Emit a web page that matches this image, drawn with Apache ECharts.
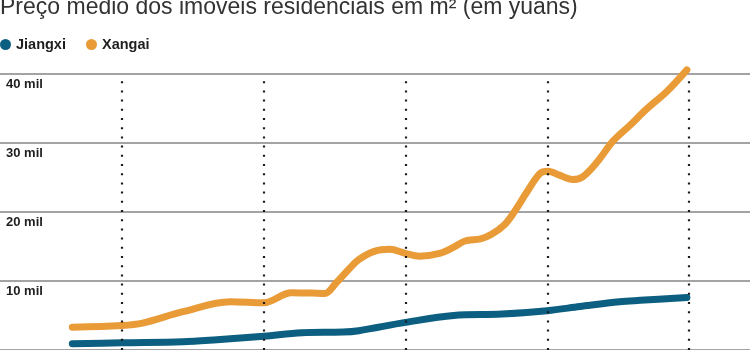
<!DOCTYPE html>
<html>
<head>
<meta charset="utf-8">
<script src="https://cdn.jsdelivr.net/npm/echarts@6/dist/echarts.min.js"></script>
<style>
  html, body { margin: 0; padding: 0; background: #ffffff; }
  #chart { width: 750px; height: 350px; }
</style>
</head>
<body>
<div id="chart"></div>
<script>
// Average price of residential property per m² (yuan), by year
const titleText = 'Preço médio dos imóveis residenciais em m\u00B2 (em yuans)';
const seriesNames = ['Jiangxi', 'Xangai'];

// Year marks drawn as dotted verticals
const yearMarks = [2004, 2006, 2008, 2010, 2012];

// Jiangxi: [year, yuan per m²]
const jiangxi = [
  [2003.30, 900], [2004.00, 1050], [2004.86, 1200], [2005.34, 1500],
  [2006.00, 2000], [2006.54, 2500], [2007.12, 2600], [2007.34, 2800],
  [2008.00, 4000], [2008.68, 5000], [2009.36, 5200], [2010.00, 5700],
  [2010.46, 6300], [2011.02, 7000], [2011.31, 7200], [2011.97, 7600]
];

// Xangai: [year, yuan per m²]
const xangai = [
  [2003.30, 3300], [2004.00, 3550], [2004.29, 3900], [2004.86, 5550],
  [2005.53, 7000], [2006.00, 6850], [2006.39, 8300], [2006.68, 8250],
  [2006.86, 8200], [2007.02, 9700], [2007.20, 11700], [2007.34, 13100],
  [2007.56, 14300], [2007.78, 14600], [2008.00, 14000], [2008.20, 13600],
  [2008.48, 14000], [2008.68, 14900], [2008.84, 15800], [2009.06, 16100],
  [2009.22, 16800], [2009.40, 18200], [2009.54, 20100], [2009.72, 23000],
  [2009.90, 25600], [2010.01, 25900], [2010.18, 25300], [2010.36, 24700],
  [2010.50, 25100], [2010.70, 27200], [2010.93, 30300], [2011.16, 32500],
  [2011.40, 34900], [2011.69, 37500], [2011.97, 40600]
];

const yTicks = [0, 10000, 20000, 30000, 40000];

const colors = { Jiangxi: '#0d5f82', Xangai: '#e99b38' };

const chart = echarts.init(document.getElementById('chart'), null, { renderer: 'canvas' });

chart.setOption({
  animation: false,
  backgroundColor: '#ffffff',
  title: {
    text: titleText,
    left: 0,
    top: -4,
    padding: 0,
    textStyle: {
      fontFamily: 'Liberation Sans',
      fontSize: 23,
      fontWeight: 'normal',
      color: '#333333'
    }
  },
  legend: {
    data: seriesNames,
    left: 0,
    top: 37,
    padding: 0,
    icon: 'circle',
    itemWidth: 11,
    itemHeight: 11,
    itemGap: 20,
    textStyle: {
      fontFamily: 'Liberation Sans',
      fontSize: 14.5,
      fontWeight: 'bold',
      color: '#1e1e1e'
    }
  },
  grid: {
    left: 0,
    right: 0,
    top: 74,
    height: 280
  },
  xAxis: {
    type: 'value',
    min: 2002.28,
    max: 2012.86,
    axisLine: { show: false },
    axisTick: { show: false },
    axisLabel: { show: false },
    splitLine: { show: false }
  },
  yAxis: {
    type: 'value',
    min: yTicks[0],
    max: yTicks[yTicks.length - 1],
    interval: 10000,
    axisLine: { show: false },
    axisTick: { show: false },
    axisLabel: {
      inside: true,
      margin: 6,
      verticalAlign: 'top',
      padding: [4, 0, 0, 0],
      fontFamily: 'Liberation Sans',
      fontSize: 13,
      fontWeight: 'bold',
      color: '#1e1e1e',
      formatter: v => (v === 0 ? '' : (v / 1000) + ' mil')
    },
    splitLine: {
      show: true,
      lineStyle: { color: '#858585', width: 1.5 }
    }
  },
  series: [
    {
      name: 'Jiangxi',
      type: 'line',
      data: jiangxi,
      smooth: 0.35,
      symbol: 'none',
      clip: false,
      z: 3,
      itemStyle: { color: colors.Jiangxi },
      lineStyle: { color: colors.Jiangxi, width: 7, cap: 'round', join: 'round' }
    },
    {
      name: 'Xangai',
      type: 'line',
      data: xangai,
      smooth: 0.35,
      symbol: 'none',
      clip: false,
      z: 3,
      itemStyle: { color: colors.Xangai },
      lineStyle: { color: colors.Xangai, width: 7, cap: 'round', join: 'round' }
    },
    {
      // dotted year marks, drawn over the price lines
      type: 'line',
      data: [],
      silent: true,
      z: 5,
      markLine: {
        silent: true,
        z: 5,
        symbol: ['none', 'none'],
        label: { show: false },
        lineStyle: { color: '#1a1a1a', width: 2.2, type: [2, 7.2] },
        data: yearMarks.map(y => ({ xAxis: y }))
      }
    }
  ]
});
</script>
</body>
</html>
